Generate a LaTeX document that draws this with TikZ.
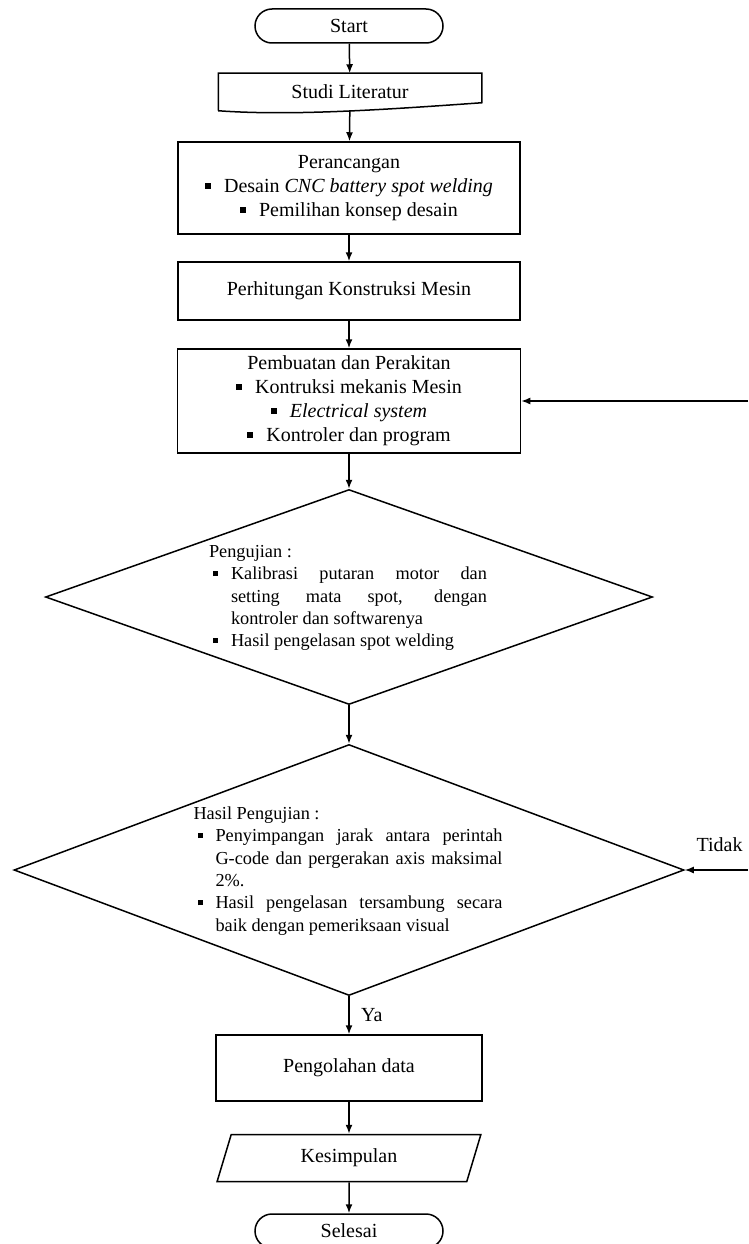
\documentclass[tikz,border=0pt]{standalone}
\usepackage{fontspec}
\setmainfont{Liberation Serif}
\usetikzlibrary{shapes.geometric,arrows.meta}

\newcommand{\kotak}{\rule[0.18em]{6pt}{6pt}\hspace{13pt}}
\newcommand{\butir}{\par\leftskip=22pt\noindent\llap{\rule[0.2em]{5pt}{5pt}\hspace{13pt}}}

\begin{document}
\begin{tikzpicture}[x=1pt,y=-1pt,
	proses/.style={shape=rectangle,draw=black,line width=1.5pt,align=center,font=\fontsize{20}{24}\selectfont},
	terminal/.style={proses,rounded corners=17pt,minimum width=188pt,minimum height=34pt},
	keputusan/.style={shape=diamond,draw=black,line width=1.5pt,inner sep=0pt},
	ket/.style={inner sep=0pt,align=justify,font=\fontsize{18.3}{22.4}\selectfont},
	tulisan/.style={font=\fontsize{20}{24}\selectfont},
	panah/.style={-{Latex[length=9pt,width=7pt]},line width=1.5pt}]

	\useasboundingbox (0,0) rectangle (748,1244);

	\node[terminal] (start) at (349, 26) {Start};
	\node[proses,draw=none,minimum width=262pt,minimum height=36pt] (studi) at (350, 92) {Studi Literatur};
	\node[proses,minimum width=342pt,minimum height=92pt] (rancang) at (349, 188) {Perancangan\\ \kotak Desain \textit{CNC battery spot welding}\\ \kotak Pemilihan konsep desain};
	\node[proses,minimum width=342pt,minimum height=58pt] (hitung) at (349, 291) {Perhitungan Konstruksi Mesin};
	\node[proses,minimum width=343pt,minimum height=104pt] (buat) at (349, 401) {Pembuatan dan Perakitan\\ \kotak Kontruksi mekanis Mesin\\ \kotak \textit{Electrical system}\\ \kotak Kontroler dan program};
	\node[keputusan,minimum width=607pt,minimum height=215pt] (uji) at (349, 597) {};
	\node[ket,text width=278pt] (ujiket) at (348, 598) {\noindent Pengujian :
		\butir Kalibrasi putaran motor dan\linebreak setting mata spot, dengan\linebreak kontroler dan softwarenya
		\butir Hasil pengelasan spot welding\par};
	\node[keputusan,minimum width=670pt,minimum height=251pt] (hasil) at (349, 870) {};
	\node[ket,text width=309pt] (hasilket) at (348, 871) {\noindent Hasil Pengujian :
		\butir Penyimpangan jarak antara perintah\linebreak G-code dan pergerakan axis maksimal\linebreak 2\%.
		\butir Hasil pengelasan tersambung secara\linebreak baik dengan pemeriksaan visual\par};
	\node[proses,minimum width=266pt,minimum height=66pt] (olah) at (349, 1068) {Pengolahan data};
	\node[proses,trapezium,trapezium left angle=76,trapezium right angle=104,trapezium stretches=true,minimum width=264pt,minimum height=47pt] (simpul) at (349, 1158) {Kesimpulan};
	\node[terminal] (selesai) at (349, 1231) {Selesai};
	\coordinate (balik1) at (748, 401);
	\coordinate (balik2) at (748, 870);

	% bentuk dokumen
	\draw[line width=1.5pt] (studi.south west) -- (studi.north west) -- (studi.north east) -- ([yshift=8pt]studi.south east) .. controls (380, 110) and (290, 116) .. (studi.south west);

	\path[panah] (start) edge (studi);
	\path[panah] (studi) edge (rancang);
	\path[panah] (rancang) edge (hitung);
	\path[panah] (hitung) edge (buat);
	\path[panah] (buat) edge (uji);
	\path[panah] (uji) edge (hasil);
	\path[panah] (hasil) edge node[tulisan,right=8pt]{Ya} (olah);
	\path[panah] (olah) edge (simpul);
	\path[panah] (simpul) edge (selesai);
	\path[panah] (balik2) edge node[tulisan,above=14pt,pos=0.45]{Tidak} (hasil);
	\path[panah] (balik1) edge (buat);
\end{tikzpicture}
\end{document}
